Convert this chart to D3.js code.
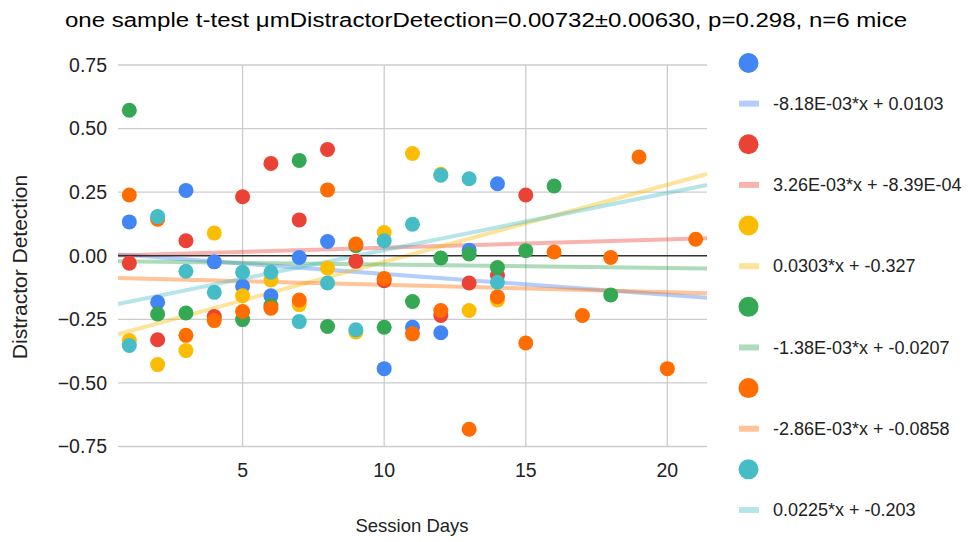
<!DOCTYPE html>
<html lang="en">
<head>
<meta charset="UTF-8">
<title>Distractor Detection</title>
<script src="https://cdn.jsdelivr.net/npm/d3@7"></script>
<style>
	body { margin: 0; background: #fff; }
	svg { font-family: "Liberation Sans", Arial, sans-serif; }
</style>
</head>
<body>
<svg id="chart" width="973" height="542"></svg>
<script>
	// values, one pair of arrays per mouse
	var blueDays = [1,2,3,4,5,6,7,8,10,11,12,13,14];
	var blueVals = [0.133,-0.183,0.257,-0.024,-0.120,-0.157,-0.007,0.056,-0.444,-0.281,-0.303,0.022,0.283];
	var redDays = [1,2,3,4,5,6,7,8,9,10,12,13,14,15];
	var redVals = [-0.029,-0.330,0.059,-0.239,0.232,0.363,0.141,0.418,-0.022,-0.098,-0.235,-0.107,-0.078,0.239];
	var yellowDays = [1,2,3,4,5,6,7,8,9,10,11,12,13,14];
	var yellowVals = [-0.333,-0.428,-0.373,0.089,-0.157,-0.095,-0.192,-0.048,-0.300,0.091,0.402,0.320,-0.215,-0.174];
	var greenDays = [1,2,3,5,6,7,8,9,10,11,12,13,14,15,16,18];
	var greenVals = [0.572,-0.229,-0.225,-0.251,-0.196,0.375,-0.278,0.040,-0.281,-0.180,-0.009,0.007,-0.046,0.020,0.274,-0.154];
	var orangeDays = [1,2,3,4,5,6,7,8,9,10,11,12,13,14,15,16,17,18,19,20,21];
	var orangeVals = [0.239,0.144,-0.313,-0.255,-0.219,-0.206,-0.174,0.259,0.046,-0.089,-0.307,-0.215,-0.682,-0.161,-0.343,0.015,-0.235,-0.007,0.388,-0.444,0.065];
	var tealDays = [1,2,3,4,5,6,7,8,9,10,11,12,13,14];
	var tealVals = [-0.353,0.154,-0.061,-0.144,-0.065,-0.065,-0.259,-0.107,-0.291,0.059,0.124,0.317,0.303,-0.104];

	var seriesColors = ["#4285f4","#ea4335","#fbbc04","#34a853","#ff6d01","#46bdc6"];
	var trendSlopes = [-8.18e-3, 3.26e-3, 0.0303, -1.38e-3, -2.86e-3, 0.0225];
	var trendIntercepts = [0.0103, -8.39e-4, -0.327, -0.0207, -0.0858, -0.203];
	var trendLabels = ["-8.18E-03*x + 0.0103","3.26E-03*x + -8.39E-04","0.0303*x + -0.327",
		"-1.38E-03*x + -0.0207","-2.86E-03*x + -0.0858","0.0225*x + -0.203"];
	var xTicks = [5,10,15,20];
	var yTicks = [-0.75,-0.5,-0.25,0,0.25,0.5,0.75];

	var allDays = [blueDays, redDays, yellowDays, greenDays, orangeDays, tealDays];
	var allVals = [blueVals, redVals, yellowVals, greenVals, orangeVals, tealVals];

	var svg = d3.select("#chart");
	var plotL = 118, plotR = 707, plotT = 65, plotB = 446.5;

	var x = d3.scaleLinear().domain([0.6, 21.4]).range([plotL, plotR]);
	var y = d3.scaleLinear().domain([-0.75, 0.75]).range([plotB, plotT]);

	svg.append("text")
		.attr("x", 486).attr("y", 27)
		.attr("text-anchor", "middle")
		.attr("font-size", 20)
		.attr("textLength", 842)
		.attr("lengthAdjust", "spacingAndGlyphs")
		.attr("fill", "#000")
		.text("one sample t-test \u03bcmDistractorDetection=0.00732\u00b10.00630, p=0.298, n=6 mice");

	// gridlines
	svg.append("g").selectAll("line")
		.data(yTicks.filter(function (d) { return d !== 0; }))
		.enter().append("line")
		.attr("x1", plotL).attr("x2", plotR)
		.attr("y1", function (d) { return y(d); })
		.attr("y2", function (d) { return y(d); })
		.attr("stroke", "#cccccc").attr("stroke-width", 1.3);
	svg.append("g").selectAll("line")
		.data(xTicks)
		.enter().append("line")
		.attr("x1", function (d) { return x(d); })
		.attr("x2", function (d) { return x(d); })
		.attr("y1", plotT).attr("y2", plotB)
		.attr("stroke", "#cccccc").attr("stroke-width", 1.3);

	// tick labels
	svg.append("g").selectAll("text")
		.data(yTicks)
		.enter().append("text")
		.attr("x", 107)
		.attr("y", function (d) { return y(d); })
		.attr("dy", "0.35em")
		.attr("text-anchor", "end")
		.attr("font-size", 19.5)
		.attr("fill", "#222")
		.text(function (d) { return d3.format(".2f")(d); });
	svg.append("g").selectAll("text")
		.data(xTicks)
		.enter().append("text")
		.attr("x", function (d) { return x(d); })
		.attr("y", 477)
		.attr("text-anchor", "middle")
		.attr("font-size", 19.5)
		.attr("fill", "#222")
		.text(function (d) { return d; });

	svg.append("text")
		.attr("x", 412).attr("y", 532)
		.attr("text-anchor", "middle")
		.attr("font-size", 18.5)
		.attr("fill", "#222")
		.text("Session Days");
	svg.append("text")
		.attr("transform", "translate(27,267) rotate(-90)")
		.attr("text-anchor", "middle")
		.attr("font-size", 21)
		.attr("fill", "#222")
		.text("Distractor Detection");

	// trendlines, across the whole plot
	var xd = x.domain();
	svg.append("g").selectAll("line")
		.data(trendSlopes)
		.enter().append("line")
		.attr("x1", x(xd[0])).attr("x2", x(xd[1]))
		.attr("y1", function (d, i) { return y(d * xd[0] + trendIntercepts[i]); })
		.attr("y2", function (d, i) { return y(d * xd[1] + trendIntercepts[i]); })
		.attr("stroke", function (d, i) { return seriesColors[i]; })
		.attr("stroke-opacity", 0.4)
		.attr("stroke-width", 4);

	// zero baseline
	svg.append("line")
		.attr("x1", plotL).attr("x2", plotR)
		.attr("y1", y(0)).attr("y2", y(0))
		.attr("stroke", "#333").attr("stroke-width", 1.3);

	// points
	allDays.forEach(function (days, s) {
		svg.append("g").selectAll("circle")
			.data(days)
			.enter().append("circle")
			.attr("cx", function (d) { return x(d); })
			.attr("cy", function (d, i) { return y(allVals[s][i]); })
			.attr("r", 7.5)
			.attr("fill", seriesColors[s]);
	});

	// legend
	var rowY = d3.scaleLinear().domain([0, 11]).range([63, 510]);
	var leg = svg.append("g");
	seriesColors.forEach(function (c, i) {
		leg.append("circle")
			.attr("cx", 748.5).attr("cy", rowY(i * 2))
			.attr("r", 10).attr("fill", c);
		leg.append("rect")
			.attr("x", 739).attr("y", rowY(i * 2 + 1) - 3)
			.attr("width", 20).attr("height", 6)
			.attr("fill", c).attr("fill-opacity", 0.4);
		leg.append("text")
			.attr("x", 773).attr("y", rowY(i * 2 + 1))
			.attr("dy", "0.35em")
			.attr("font-size", 18)
			.attr("fill", "#222")
			.text(trendLabels[i]);
	});
</script>
</body>
</html>
